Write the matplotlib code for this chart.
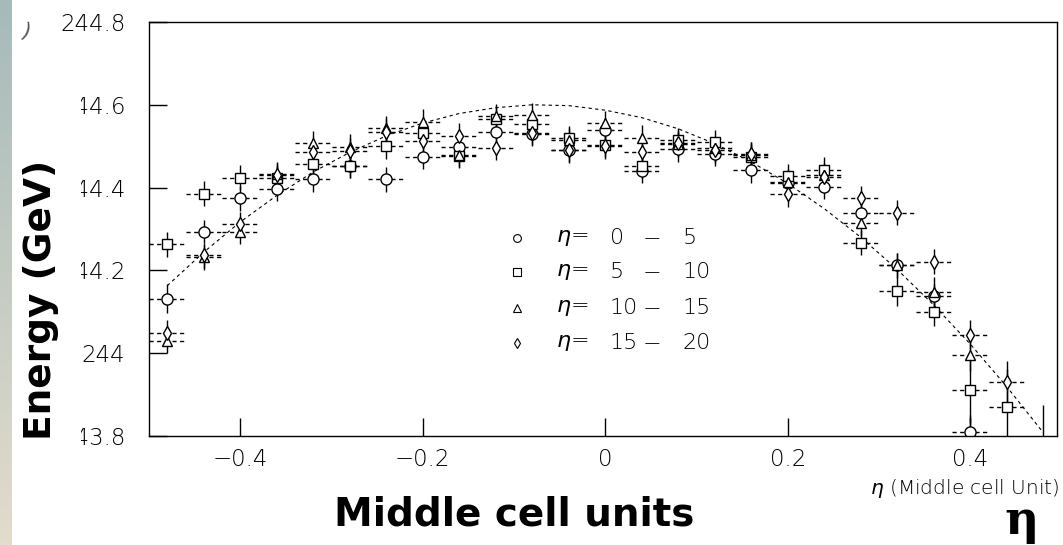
import matplotlib
matplotlib.use('Agg')
import matplotlib.pyplot as plt
from matplotlib.patches import Rectangle
from matplotlib.lines import Line2D
import numpy as np

# eta position (middle cell units)
eta = [-0.48, -0.44, -0.40, -0.36, -0.32, -0.28, -0.24, -0.20, -0.16, -0.12, -0.08, -0.04,
       0.0, 0.04, 0.08, 0.12, 0.16, 0.20, 0.24, 0.28, 0.32, 0.36, 0.40, 0.44, 0.48]
nan = float('nan')

# eta = 0 - 5 (circles)
e_0_5 = [244.131, 244.293, 244.374, 244.397, 244.420, 244.452, 244.420, 244.475, 244.497,
         244.535, 244.530, 244.492, 244.539, 244.440, 244.493, 244.481, 244.442, 244.410,
         244.402, 244.338, 244.212, 244.137, 243.810, nan, nan]
err_0_5 = [0.035, 0.028, 0.03, 0.03, 0.03, 0.03, 0.03, 0.03, 0.03, 0.03, 0.03, 0.03, 0.03,
           0.03, 0.03, 0.03, 0.03, 0.03, 0.03, 0.03, 0.03, 0.03, 0.04, 0, 0]

# eta = 5 - 10 (squares)
e_5_10 = [244.263, 244.385, 244.424, 244.423, 244.457, 244.452, 244.500, 244.533, 244.477,
          244.566, 244.553, 244.519, 244.503, 244.453, 244.515, 244.509, 244.475, 244.428,
          244.443, 244.267, 244.150, 244.100, 243.911, 243.871, nan]
err_5_10 = [0.03, 0.03, 0.03, 0.03, 0.03, 0.03, 0.03, 0.03, 0.03, 0.03, 0.03, 0.03, 0.03,
            0.03, 0.03, 0.03, 0.03, 0.03, 0.03, 0.03, 0.035, 0.035, 0.08, 0.09, 0]

# eta = 10 - 15 (triangles)
e_10_15 = [244.030, 244.232, 244.293, 244.433, 244.507, 244.499, 244.543, 244.559, 244.479,
           244.573, 244.575, 244.515, 244.555, 244.521, 244.505, 244.495, 244.479, 244.414,
           244.430, 244.314, 244.213, 244.149, 243.996, nan, 243.780]
err_10_15 = [0.03, 0.03, 0.03, 0.03, 0.03, 0.03, 0.03, 0.03, 0.03, 0.03, 0.03, 0.03, 0.03,
             0.03, 0.03, 0.03, 0.03, 0.03, 0.03, 0.03, 0.03, 0.035, 0.04, 0, 0.095]

# eta = 15 - 20 (diamonds)
e_15_20 = [244.049, 244.236, 244.312, 244.430, 244.487, 244.489, 244.535, 244.513, 244.525,
           244.496, 244.533, 244.490, 244.500, 244.487, 244.508, 244.490, 244.481, 244.384,
           244.425, 244.374, 244.339, 244.221, 244.044, 243.931, nan]
err_15_20 = [0.03, 0.03, 0.03, 0.03, 0.03, 0.03, 0.03, 0.03, 0.03, 0.03, 0.03, 0.03, 0.03,
             0.03, 0.03, 0.03, 0.03, 0.03, 0.03, 0.03, 0.03, 0.03, 0.035, 0.05, 0]

# dashed fit curve
fit_x = [-0.48, -0.44, -0.40, -0.36, -0.32, -0.28, -0.24, -0.20, -0.16, -0.12, -0.08, -0.04,
         0.0, 0.04, 0.08, 0.12, 0.16, 0.20, 0.24, 0.28, 0.32, 0.36, 0.40, 0.44, 0.48]
fit_e = [244.163, 244.244, 244.317, 244.381, 244.438, 244.485, 244.525, 244.556, 244.579,
         244.593, 244.600, 244.598, 244.587, 244.569, 244.542, 244.506, 244.462, 244.410,
         244.349, 244.280, 244.202, 244.116, 244.022, 243.919, 243.808]

yticks = [243.8, 244.0, 244.2, 244.4, 244.6, 244.8]
ytick_labels = ['243.8', '244', '244.2', '244.4', '244.6', '244.8']
xticks = [-0.4, -0.2, 0.0, 0.2, 0.4]
xtick_labels = ['\u22120.4', '\u22120.2', '0', '0.2', '0.4']

series = [
    (e_0_5, err_0_5, 'o', 8, '0', '5'),
    (e_5_10, err_5_10, 's', 7.5, '5', '10'),
    (e_10_15, err_10_15, '^', 7.5, '10', '15'),
    (e_15_20, err_15_20, 'd', 7.5, '15', '20'),
]

W, H = 1063, 545


def px(x, y):
    return x / W, 1 - y / H


plt.rcParams['font.family'] = ['DejaVu Sans']

fig = plt.figure(figsize=(W / 100, H / 100), dpi=100)

# left strip of the slide background
strip = fig.add_axes([0, 0, 12 / W, 1])
grad = np.linspace(0, 1, 100)[:, None, None]
top = np.array([166, 186, 186]) / 255
bot = np.array([226, 220, 204]) / 255
strip.imshow(top + (bot - top) * grad, aspect='auto')
strip.axis('off')

ax = fig.add_axes([149 / W, 1 - 436 / H, (1057 - 149) / W, (436 - 22) / H])
ax.set_xlim(-0.5, 0.495)
ax.set_ylim(243.8, 244.8)

ax.plot(fit_x, fit_e, color='black', lw=0.8, ls=(0, (3, 3)), zorder=1)

for e, err, mk, ms, lo, hi in series:
    eb = ax.errorbar(eta, e, xerr=0.02, yerr=err, fmt=mk, ms=ms, mfc='white', mec='black',
                     mew=1, ecolor='black', elinewidth=1, capsize=0, zorder=2)
    eb.lines[2][0].set_linestyle((0, (3, 2.5)))

ax.set_xticks(xticks)
ax.set_xticklabels(xtick_labels)
ax.set_yticks(yticks)
ax.set_yticklabels(ytick_labels)
ax.tick_params(direction='in', length=13, width=1, labelsize=16.5)
ax.tick_params(axis='y', pad=17)
ax.tick_params(axis='x', pad=9)
for lab in ax.get_xticklabels() + ax.get_yticklabels():
    lab.set_fontweight('light')
for s in ax.spines.values():
    s.set_linewidth(1)

# legend drawn by hand
rows = [238, 272, 308, 343]
for (e, err, mk, ms, lo, hi), y in zip(series, rows):
    fig.add_artist(Line2D([517 / W], [1 - y / H], transform=fig.transFigure, marker=mk,
                          ms=ms * 0.7, mfc='white', mec='black', mew=0.8, ls='none'))
    fig.text(*px(556, y), r'$\eta$=', fontsize=16, ha='left', va='center', fontweight='light')
    fig.text(*px(610, y), lo, fontsize=16, ha='left', va='center', fontweight='light')
    fig.text(*px(652, y), '\u2212', fontsize=16, ha='center', va='center', fontweight='light')
    fig.text(*px(683, y), hi, fontsize=16, ha='left', va='center', fontweight='light')

# white box of the y label, hides part of the tick labels
for y0, y1 in [(90, 330), (372, 450)]:
    fig.add_artist(Rectangle(px(12, y1), (81 - 12) / W, (y1 - y0) / H, transform=fig.transFigure,
                             facecolor='white', edgecolor='none', zorder=5))
fig.text(*px(41, 300), 'Energy (GeV)', rotation=90, fontsize=27, fontweight='bold',
         ha='center', va='center', zorder=6)
fig.text(*px(25, 32), ')', rotation=-20, fontsize=15, color='#555555', ha='center', va='center')

fig.text(*px(514, 514), 'Middle cell units', fontsize=28, fontweight='bold',
         ha='center', va='center')
fig.text(*px(1060, 489), r'$\eta$ (Middle cell Unit)', fontsize=14.5, ha='right', va='center',
         fontweight='light')
fig.text(*px(1022, 521), '\u03b7', fontsize=34, family='DejaVu Serif', fontweight='bold',
         ha='center', va='center')

fig.savefig('out.png', dpi=100)
